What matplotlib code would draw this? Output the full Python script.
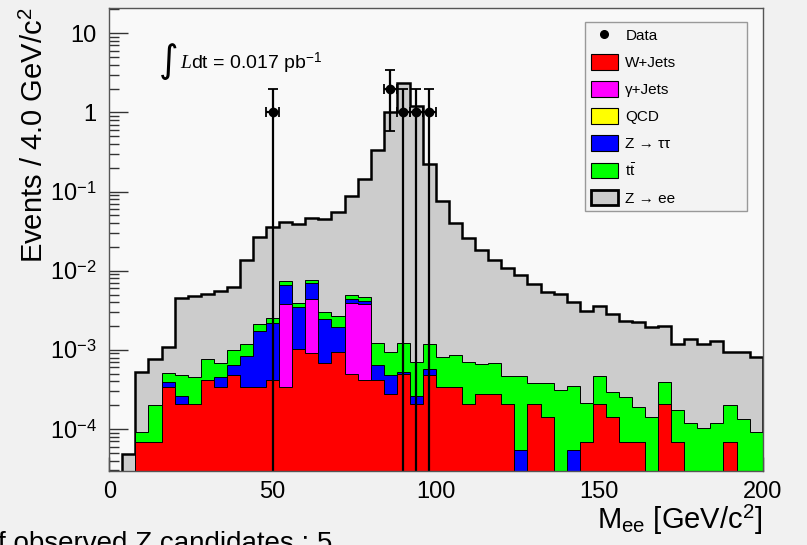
import numpy as np
import matplotlib
matplotlib.use("Agg")
import matplotlib.pyplot as plt
from matplotlib.patches import Patch
from matplotlib.lines import Line2D
from matplotlib.ticker import LogLocator, NullFormatter

plt.rcParams['font.family'] = ['Liberation Sans', 'DejaVu Sans']
plt.rcParams['mathtext.fontset'] = 'custom'
plt.rcParams['mathtext.rm'] = 'Liberation Sans'
plt.rcParams['mathtext.it'] = 'Liberation Serif:italic'
plt.rcParams['mathtext.bf'] = 'Liberation Sans:bold'

# 50 bins of 4 GeV from 0 to 200
bin_width = 4
bin_edges = np.arange(0, 201, bin_width)

# events per bin for each background
w_jets = [
    0, 0, 6.8e-5, 6.8e-5, 3.4e-4, 2.05e-4, 2.05e-4, 4.15e-4, 3.4e-4, 4.85e-4,
    3.4e-4, 3.4e-4, 4.15e-4, 3.4e-4, 1.02e-3, 9.1e-4, 6.9e-4, 9.45e-4, 4.9e-4, 4.2e-4,
    4.15e-4, 2.8e-4, 4.9e-4, 2.05e-4, 4.8e-4, 3.4e-4, 3.4e-4, 2.05e-4, 2.75e-4, 2.75e-4,
    2.05e-4, 0, 2.05e-4, 1.4e-4, 0, 0, 6.8e-5, 2.05e-4, 1.4e-4, 6.8e-5,
    6.8e-5, 0, 2.05e-4, 6.8e-5, 0, 0, 0, 6.8e-5, 0, 0]
gamma_jets = [
    0, 0, 0, 0, 0, 0, 0, 0, 0, 0,
    0, 0, 0, 3.5e-3, 0, 3.43e-3, 0, 0, 3.45e-3, 3.43e-3,
    0, 0, 0, 0, 0, 0, 0, 0, 0, 0,
    0, 0, 0, 0, 0, 0, 0, 0, 0, 0,
    0, 0, 0, 0, 0, 0, 0, 0, 0, 0]
qcd = [0] * 50
z_tautau = [
    0, 0, 0, 0, 5.1e-5, 5.8e-5, 0, 0, 1.16e-4, 1.5e-4,
    4.9e-4, 1.38e-3, 1.8e-3, 2.85e-3, 2.46e-3, 2.6e-3, 1.74e-3, 9.9e-4, 4.1e-4, 2.9e-4,
    2.26e-4, 2.08e-4, 3.8e-5, 5.6e-5, 9.1e-5, 0, 0, 0, 0, 0,
    0, 5.4e-5, 0, 0, 0, 5.4e-5, 0, 0, 0, 0,
    0, 0, 0, 0, 0, 0, 0, 0, 0, 0]
ttbar = [
    0, 0, 2.45e-5, 1.33e-4, 1.12e-4, 2.21e-4, 2.52e-4, 3.42e-4, 2.36e-4, 3.55e-4,
    3.72e-4, 3.9e-4, 3.2e-4, 7.0e-4, 4.2e-4, 6.4e-4, 5.6e-4, 7.1e-4, 6.2e-4, 4.9e-4,
    5.64e-4, 4.45e-4, 6.87e-4, 4.45e-4, 6.26e-4, 4.77e-4, 5.14e-4, 5.01e-4, 3.89e-4, 4.1e-4,
    2.64e-4, 4.15e-4, 1.81e-4, 2.38e-4, 3.1e-4, 2.95e-4, 1.45e-4, 2.64e-4, 1.54e-4, 1.85e-4,
    1.19e-4, 1.43e-4, 1.9e-4, 1.05e-4, 1.18e-4, 1.04e-4, 1.18e-4, 1.31e-4, 1.34e-4, 9.2e-5]
z_ee = [
    0, 4.77e-5, 4.27e-4, 5.58e-4, 5.92e-4, 4.03e-3, 4.29e-3, 4.27e-3, 4.78e-3, 5.28e-3,
    1.23e-2, 2.45e-2, 3.3e-2, 3.33e-2, 3.49e-2, 3.87e-2, 4.15e-2, 5.27e-2, 8.17e-2, 0.139,
    0.335, 1.02, 2.35, 1.19, 0.223, 7.58e-2, 3.9e-2, 2.51e-2, 1.74e-2, 1.28e-2,
    1.02e-2, 8.28e-3, 6.48e-3, 5.0e-3, 4.72e-3, 3.68e-3, 2.89e-3, 3.13e-3, 2.52e-3, 2.03e-3,
    2.09e-3, 1.81e-3, 1.62e-3, 1.0e-3, 1.24e-3, 1.07e-3, 1.17e-3, 7.28e-4, 7.93e-4, 7.1e-4]

# observed data
data_mass = [50, 86, 90, 94, 98]
data_counts = [1, 2, 1, 1, 1]

# stack order bottom -> top, with label and colour
samples = [
    ('W+Jets', w_jets, '#ff0000'),
    ('\u03b3+Jets', gamma_jets, '#ff00ff'),
    ('QCD', qcd, '#ffff00'),
    ('Z \u2192 \u03c4\u03c4', z_tautau, '#0000ff'),
    (r'$\mathregular{t\bar{t}}$', ttbar, '#00ff00'),
    ('Z \u2192 ee', z_ee, '#cccccc'),
]

floor = 1e-6  # below the y range, stands in for empty bins on the log axis

fig = plt.figure(figsize=(8.07, 5.45), dpi=100, facecolor='#f1f1f1')
ax = fig.add_axes([0.1354, 0.1358, 0.8097, 0.8495])
ax.set_facecolor('#f9f9f9')
ax.set_yscale('log')

cum = np.cumsum([np.array(s[1], dtype=float) for s in samples], axis=0)

# draw cumulative stacks from the top one down so lower ones sit in front
for i in range(len(samples) - 1, -1, -1):
    name, vals, col = samples[i]
    top = np.where(cum[i] > 0, cum[i], floor)
    lw = 1.8 if name.startswith('Z \u2192 ee') else 0.7
    ax.stairs(top, bin_edges, baseline=floor, fill=True, facecolor=col,
              edgecolor='black', linewidth=lw, zorder=2 + (len(samples) - i) * 0.1)

counts = np.array(data_counts, dtype=float)
err = np.sqrt(counts)
err_lo = np.minimum(err, counts - floor)
ax.errorbar(data_mass, counts, xerr=bin_width / 2, yerr=[err_lo, err],
            fmt='o', color='black', markersize=6, elinewidth=1.6,
            capsize=3.5, capthick=1.3, zorder=10)

ax.set_xlim(0, 200)
ax.set_ylim(2.95e-5, 20.8)

ax.set_xticks([0, 50, 100, 150, 200])
ax.set_xticks(np.arange(0, 201, 10), minor=True)
ax.set_yticks([1e-4, 1e-3, 1e-2, 1e-1, 1, 10],
              labels=[r'10$^{-4}$', r'10$^{-3}$', r'10$^{-2}$', r'10$^{-1}$', '1', '10'])
ax.yaxis.set_minor_locator(LogLocator(base=10, subs=np.arange(2, 10)))
ax.yaxis.set_minor_formatter(NullFormatter())

ax.tick_params(which='both', direction='in', top=False, right=False,
               labelsize=17, color='#333333', width=1)
ax.tick_params(axis='y', which='major', length=14, pad=9)
ax.tick_params(axis='y', which='minor', length=7)
ax.tick_params(axis='x', which='major', length=10, pad=7)
ax.tick_params(axis='x', which='minor', length=5)
for sp in ax.spines.values():
    sp.set_color('#555555')
    sp.set_linewidth(1)
    sp.set_zorder(20)

ax.set_ylabel('Events / 4.0 GeV/c$^{2}$', fontsize=21, loc='top')
ax.yaxis.set_label_coords(-0.092, 1.0)
ax.set_xlabel(r'M$_{\mathregular{ee}}$ [GeV/c$^{2}$]', fontsize=21, loc='right')
ax.xaxis.set_label_coords(1.0, -0.07)

# luminosity label
ax.text(0.091, 0.885, '\u222b', transform=ax.transAxes, fontsize=27,
        ha='center', va='center', family=['DejaVu Sans'])
ax.text(0.108, 0.88, r'$\mathit{L}$dt = 0.017 pb$^{-1}$', transform=ax.transAxes,
        fontsize=14, ha='left', va='center')

# legend
handles = [Line2D([], [], marker='o', color='black', linestyle='none', markersize=5.5)]
labels = ['Data']
for name, vals, col in samples:
    lw = 2 if name.startswith('Z \u2192 ee') else 0.8
    handles.append(Patch(facecolor=col, edgecolor='black', linewidth=lw))
    labels.append(name)
leg = ax.legend(handles, labels, loc='upper left',
                bbox_to_anchor=(585 / 807, 1 - 225 / 545, 162 / 807, 203 / 545),
                bbox_transform=fig.transFigure, mode='expand', borderaxespad=0,
                fontsize=11, handlelength=1.83, handleheight=1.18, labelspacing=0.72,
                handletextpad=0.45, borderpad=0.36, fancybox=False, framealpha=1)
leg.get_frame().set_facecolor('#f3f3f3')
leg.get_frame().set_edgecolor('#999999')
leg.get_frame().set_linewidth(1)
leg.set_zorder(30)

fig.text(-0.0025, -0.011, 'f observed Z candidates : 5', fontsize=20, va='baseline', ha='left')

fig.savefig('out.png', dpi=100, facecolor=fig.get_facecolor())
